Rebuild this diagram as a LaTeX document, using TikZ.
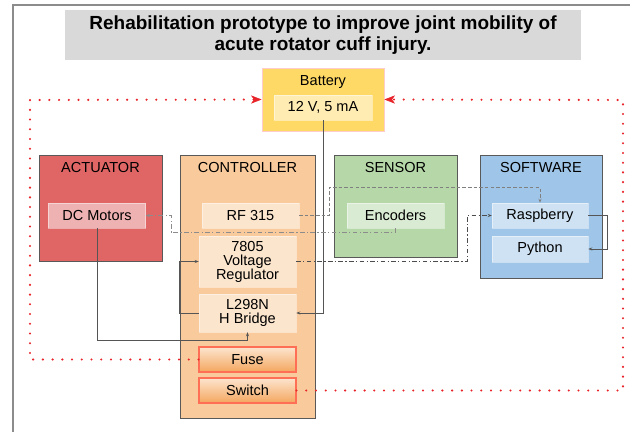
\documentclass[tikz,border=0pt]{standalone}
\usepackage{fontspec}
\setmainfont{Liberation Sans}
\usetikzlibrary{arrows.meta}
\definecolor{actc}{HTML}{E06666}
\definecolor{ctlc}{HTML}{F9CB9C}
\definecolor{senc}{HTML}{B6D7A8}
\definecolor{softc}{HTML}{9FC5E8}
\definecolor{batc}{HTML}{FFD966}
\definecolor{pwrc}{HTML}{E8232A}
\definecolor{wirec}{HTML}{555555}
\definecolor{safetop}{HTML}{FCE5CF}
\definecolor{safebot}{HTML}{F4A65E}
\definecolor{safeline}{HTML}{FF6F55}

\begin{document}
\begin{tikzpicture}[x=0.03cm,y=-0.03cm,
        grp/.style={draw=black!65, line width=0.7pt, inner sep=0pt},
        part/.style={draw=white, draw opacity=0.45, fill=white, fill opacity=0.5, text opacity=1,
            inner sep=0pt, align=center, minimum width=2.91cm, minimum height=0.75cm,
            font=\fontsize{12.4}{12}\selectfont},
        safe/.style={draw=safeline, line width=0.9pt, top color=safetop, bottom color=safebot,
            inner sep=0pt, minimum width=2.91cm, minimum height=0.75cm, font=\fontsize{12.4}{12}\selectfont},
        ttl/.style={font=\fontsize{12.4}{12}\selectfont},
        tip/.style={-{Stealth[length=3.5pt,width=2.6pt]}},
        wire/.style={draw=wirec, line width=0.7pt, tip},
        ctrl/.style={draw=black!70, line width=0.6pt, dash pattern=on 4pt off 2pt on 1pt off 2pt, tip},
        sens/.style={draw=black!45, line width=0.6pt, dash pattern=on 4pt off 2pt on 1pt off 2pt, tip},
        data/.style={draw=black!50, line width=0.7pt, dash pattern=on 3pt off 1.8pt, tip},
        pwr/.style={draw=pwrc, line width=2pt, line cap=round, dash pattern=on 0pt off 8.3pt,
            -{Stealth[length=9pt,width=7pt,inset=2.5pt,line width=0.4pt,line cap=butt]}}]
    \useasboundingbox (0,0) rectangle (630,432);
    \draw[black!45, line width=0.9pt] (13,432) -- (13,5) -- (630,5);
    \node[fill=black!15, inner sep=0pt, align=center, minimum width=15.48cm, minimum height=1.5cm,
        font=\fontsize{16.2}{17.5}\selectfont\bfseries] (title) at (323,35)
        {Rehabilitation prototype to improve joint mobility of\\acute rotator cuff injury.};

    \node[grp, draw=red!20, fill=batc, minimum width=3.66cm, minimum height=1.89cm] (bat) at (323,99.5) {};
    \node[ttl] (batlbl) at (323,82) {Battery};
    \node[part, minimum width=2.94cm] (batv) at (323,107.5) {12 V, 5 mA};

    \node[grp, fill=actc, minimum width=3.69cm, minimum height=3.18cm] (act) at (100.5,208) {};
    \node[ttl] (actlbl) at (100.5,168) {ACTUATOR};
    \node[part] (dcm) at (97,215.5) {DC Motors};

    \node[grp, fill=ctlc, minimum width=4.05cm, minimum height=7.89cm] (ctl) at (247.5,286.5) {};
    \node[ttl] (ctllbl) at (247.5,168) {CONTROLLER};
    \node[part] (rf) at (250.5,215.5) {RF 315};
    \node[part, minimum height=1.53cm] (reg) at (247.5,261.5) {7805\\Voltage\\Regulator};
    \node[part, minimum height=1.14cm] (hb) at (247.5,313) {L298N\\H Bridge};
    \node[safe] (fuse) at (247.5,359.5) {Fuse};
    \node[safe] (sw) at (247.5,390.5) {Switch};

    \node[grp, fill=senc, minimum width=3.69cm, minimum height=3.06cm] (sen) at (395.5,206) {};
    \node[ttl] (senlbl) at (395.5,168) {SENSOR};
    \node[part] (enc) at (395.5,215.5) {Encoders};

    \node[grp, fill=softc, minimum width=3.66cm, minimum height=3.69cm] (soft) at (541,216.5) {};
    \node[ttl] (softlbl) at (541,168) {SOFTWARE};
    \node[part, minimum width=2.88cm] (rpi) at (540,215.5) {Raspberry};
    \node[part, minimum width=2.88cm, minimum height=0.78cm] (py) at (540,249) {Python};

    \coordinate (lc) at (30,100);
    \coordinate (rc) at (623,100);
    \draw[pwr] (fuse.west) -| (lc) -- (bat.west);
    \draw[pwr] (sw.east) -| (rc) -- (bat.east);
    \draw[wire] (batv.south) |- (hb.east);
    \draw[wire] (dcm.south) -- ++(0,112) -| (hb.south);
    \draw[wire] (hb.west) -- ++(-19,0) |- (reg.west);
    \draw[ctrl] (reg.east) -- ++(171,0) |- (rpi.west);
    \draw[data] (rf.east) -- ++(30,0) -- ++(0,-28) -| (rpi.north);
    \draw[sens] (enc.south) -- ++(0,4) -- ++(-224.5,0) |- (dcm.east);
    \draw[wire] (rpi.east) -- ++(19,0) |- (py.east);
\end{tikzpicture}
\end{document}
